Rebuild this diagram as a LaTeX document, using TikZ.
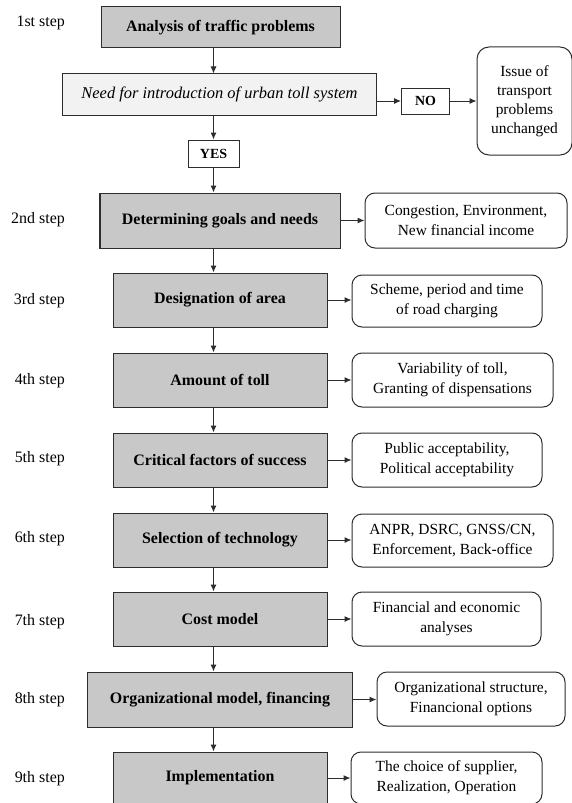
\documentclass[tikz,border=0pt]{standalone}
\usepackage{fontspec}
\setmainfont{Liberation Serif}
\usetikzlibrary{arrows.meta}
\definecolor{stepgray}{RGB}{200,200,200}
\definecolor{needgray}{RGB}{242,242,242}
\definecolor{edgegray}{RGB}{45,45,45}
\tikzset{
	stepbox/.style={draw=edgegray, fill=stepgray, line width=1bp, inner sep=0pt, font=\fontsize{16}{19}\selectfont\bfseries},
	needbox/.style={draw=edgegray, fill=needgray, line width=1bp, inner sep=0pt, font=\fontsize{16.5}{19}\selectfont\itshape},
	answer/.style={draw=edgegray, fill=white, line width=1bp, inner sep=0pt, font=\fontsize{14}{17}\selectfont\bfseries},
	outcome/.style={draw=edgegray, fill=white, line width=1bp, rounded corners=10bp, inner sep=0pt, align=center, font=\fontsize{15.5}{20}\selectfont},
	steplabel/.style={anchor=east, inner sep=0pt, font=\fontsize{16}{19}\selectfont},
	flow/.style={draw=edgegray, line width=1bp, -{Latex[length=7bp,width=6bp]}},
}

\begin{document}
\begin{tikzpicture}[x=1bp,y=-1bp]
\useasboundingbox (0,0) rectangle (572,803);
% steps on the left
\node[steplabel] (l1) at (65,23) {1st step};
\node[steplabel] (l2) at (65,220) {2nd step};
\node[steplabel] (l3) at (65,301) {3rd step};
\node[steplabel] (l4) at (65,381) {4th step};
\node[steplabel] (l5) at (65,459) {5th step};
\node[steplabel] (l6) at (65,539) {6th step};
\node[steplabel] (l7) at (65,622) {7th step};
\node[steplabel] (l8) at (65,700) {8th step};
\node[steplabel] (l9) at (65,779) {9th step};
% main column
\node[stepbox, minimum width=239bp, minimum height=41bp] (s1) at (220.5,27.5) {Analysis of traffic problems};
\node[needbox, minimum width=313bp, minimum height=41bp] (need) at (219.5,94.5) {Need for introduction of urban toll system};
\node[answer, minimum width=48bp, minimum height=26bp] (no) at (425.5,101) {NO};
\node[outcome, rounded corners=12bp, minimum width=95bp, minimum height=108bp, font=\fontsize{15.5}{19}\selectfont] (issue) at (524.5,101) {Issue of\\transport\\problems\\unchanged};
\node[answer, minimum width=51bp, minimum height=27bp] (yes) at (213.5,153.5) {YES};
\node[stepbox, minimum width=240bp, minimum height=55bp] (s2) at (220,220.5) {Determining goals and needs};
\node[stepbox, minimum width=214bp, minimum height=54bp] (s3) at (220,300) {Designation of area};
\node[stepbox, minimum width=214bp, minimum height=54bp] (s4) at (220,380) {Amount of toll};
\node[stepbox, minimum width=214bp, minimum height=54bp] (s5) at (220,460) {Critical factors of success};
\node[stepbox, minimum width=214bp, minimum height=54bp] (s6) at (220,540) {Selection of technology};
\node[stepbox, minimum width=214bp, minimum height=54bp] (s7) at (220,619) {Cost model};
\node[stepbox, minimum width=264bp, minimum height=55bp] (s8) at (220,699.5) {Organizational model, financing};
\node[stepbox, minimum width=214bp, minimum height=52bp] (s9) at (220,778) {Implementation};
% outcomes on the right
\node[outcome, minimum width=202bp, minimum height=55bp] (r2) at (466,220.5) {Congestion, Environment,\\New financial income};
\node[outcome, minimum width=190bp, minimum height=52bp] (r3) at (447,301) {Scheme, period and time\\of road charging};
\node[outcome, minimum width=201bp, minimum height=54bp] (r4) at (452.5,380) {Variability of toll,\\Granting of dispensations};
\node[outcome, minimum width=190bp, minimum height=54bp] (r5) at (447,460) {Public acceptability,\\Political acceptability};
\node[outcome, minimum width=201bp, minimum height=53bp] (r6) at (452.5,540.5) {ANPR, DSRC, GNSS/CN,\\Enforcement, Back-office};
\node[outcome, minimum width=189bp, minimum height=54bp] (r7) at (446.5,619) {Financial and economic\\analyses};
\node[outcome, minimum width=188bp, minimum height=54bp] (r8) at (471,699) {Organizational structure,\\Financional options};
\node[outcome, minimum width=191bp, minimum height=52bp] (r9) at (446.5,778) {The choice of supplier,\\Realization, Operation};
% arrows
\draw[flow] (s1.south -| yes) -- (need.north -| yes);
\draw[flow] (need.south -| yes) -- (yes.north);
\draw[flow] (yes.south) -- (s2.north -| yes);
\draw[flow] (need.east |- no) -- (no.west);
\draw[flow] (no.east) -- (issue.west |- no);
\foreach \a/\b in {s2/s3,s3/s4,s4/s5,s5/s6,s6/s7,s7/s8,s8/s9}
	\draw[flow] (\a.south -| yes) -- (\b.north -| yes);
\foreach \n in {2,...,9}
	\draw[flow] (s\n.east) -- (r\n.west |- s\n.east);
\end{tikzpicture}
\end{document}
